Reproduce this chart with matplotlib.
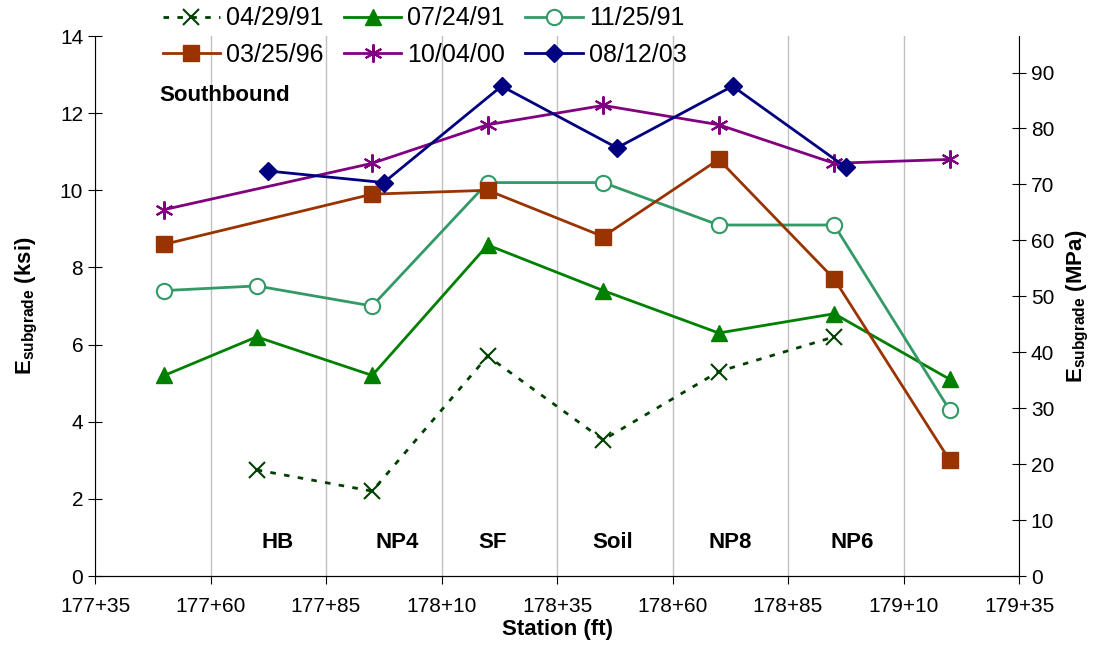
import matplotlib.pyplot as plt
from matplotlib.ticker import FixedLocator, FuncFormatter

plt.rcParams['font.family'] = ['Liberation Sans', 'DejaVu Sans']
plt.rcParams['mathtext.fontset'] = 'custom'
plt.rcParams['mathtext.rm'] = 'Liberation Sans'
plt.rcParams['mathtext.bf'] = 'Liberation Sans:bold'

# station in ft (17750 = 177+50)
x_a = [17770, 17795, 17820, 17845, 17870, 17895]
x_b = [17750, 17770, 17795, 17820, 17845, 17870, 17895, 17920]
x_c = [17750, 17795, 17820, 17845, 17870, 17895, 17920]
x_d = [17772.5, 17797.5, 17823, 17848, 17873, 17897.5]

e_042991 = [2.75, 2.2, 5.7, 3.53, 5.3, 6.2]
e_072491 = [5.2, 6.2, 5.2, 8.58, 7.4, 6.3, 6.8, 5.1]
e_112591 = [7.4, 7.52, 7.0, 10.2, 10.2, 9.1, 9.1, 4.3]
e_032596 = [8.6, 9.9, 10.0, 8.8, 10.8, 7.7, 3.0]
e_100400 = [9.5, 10.7, 11.7, 12.2, 11.7, 10.7, 10.8]
e_081203 = [10.5, 10.2, 12.7, 11.1, 12.7, 10.6]

sites = ['HB', 'NP4', 'SF', 'Soil', 'NP8', 'NP6']
site_x = [17774.5, 17800.5, 17821, 17847, 17872.5, 17899]

fig = plt.figure(figsize=(10.96, 6.47), dpi=100)
ax = fig.add_axes([95/1096, 71/647, 924/1096, 540/647])

h1, = ax.plot(x_a, e_042991, color='#004000', ls=(0, (2, 3)), lw=2, marker='x', ms=11, mew=1.5, label='04/29/91')
h2, = ax.plot(x_b, e_072491, color='#008000', lw=2, marker='^', ms=11, label='07/24/91')
h3, = ax.plot(x_b, e_112591, color='#339966', lw=2, marker='o', ms=11, mfc='white', mew=1.5, label='11/25/91')
h4, = ax.plot(x_c, e_032596, color='#993300', lw=2, marker='s', ms=12, label='03/25/96')
h5, = ax.plot(x_c, e_100400, color='#800080', lw=2, marker=(6, 2, 0), ms=13, mew=1.5, label='10/04/00')
h6, = ax.plot(x_d, e_081203, color='#000080', lw=2, marker='D', ms=9, label='08/12/03')

ax.set_xlim(17735, 17935)
ax.set_ylim(0, 14)
ax.xaxis.set_major_locator(FixedLocator(range(17735, 17936, 25)))
ax.xaxis.set_major_formatter(FuncFormatter(lambda v, p: f"{int(v)//100}+{int(v)%100:02d}"))
ax.set_yticks(range(0, 15, 2))
ax.grid(axis='x', color='#c0c0c0', lw=1)
ax.set_axisbelow(True)
ax.spines['top'].set_visible(False)
ax.spines['right'].set_visible(False)
ax.tick_params(axis='y', direction='inout', length=10, labelsize=15)
ax.tick_params(axis='x', direction='out', length=6, labelsize=15, pad=9)

ax.set_xlabel('Station (ft)', fontsize=16, fontweight='bold', labelpad=2)
ax.set_ylabel(r'$\mathbf{E_{subgrade}}$ (ksi)', fontsize=16, fontweight='bold', labelpad=14)

ax2 = ax.twinx()
ax2.set_ylim(0, 14 * 6.895)
ax2.set_yticks(range(0, 91, 10))
ax2.spines['top'].set_visible(False)
ax2.spines['left'].set_visible(False)
ax2.tick_params(axis='y', direction='inout', length=10, labelsize=15)
ax2.set_ylabel(r'$\mathbf{E_{subgrade}}$ (MPa)', fontsize=16, fontweight='bold', labelpad=8)

ax.text(17749, 12.45, 'Southbound', fontsize=16, fontweight='bold', va='center', ha='left')
for s, sx in zip(sites, site_x):
    ax.text(sx, 0.88, s, fontsize=16, fontweight='bold', ha='center', va='center')

hs = [h1, h4, h2, h5, h3, h6]
fig.legend(handles=hs, labels=[h.get_label() for h in hs], ncol=3, frameon=False,
           loc='upper left', bbox_to_anchor=(140/1096, 1.025), fontsize=18,
           handlelength=2.3, columnspacing=0.8, labelspacing=0.5, handletextpad=0.25)

fig.savefig('out.png', dpi=100)
